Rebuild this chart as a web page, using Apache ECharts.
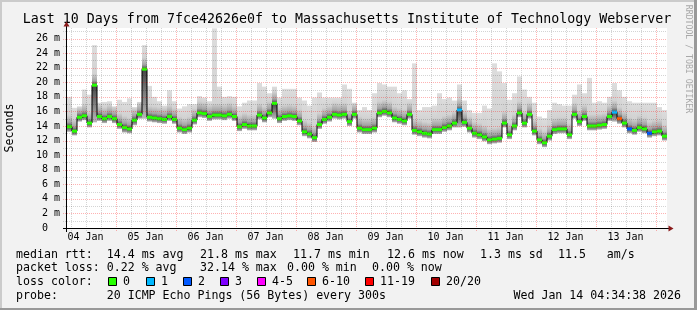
<!DOCTYPE html>
<html><head><meta charset="utf-8">
<script src="https://cdn.jsdelivr.net/npm/echarts@6/dist/echarts.min.js"></script>
<style>html,body{margin:0;padding:0;background:#f2f2f2}#c{width:697px;height:310px}</style>
</head><body><div id="c"></div>
<script>
// time axis: hours after 04 Jan 2026 00:00
const X_START = 4.5772;   // 04 Jan 04:34:38
const X_END = 244.5772;   // 14 Jan 04:34:38
const STEP_H = 2;         // consolidation step (hours)

// median rtt (ms), one value per step
const median = [
13.9,13.3,15.2,15.4,14.4,19.6,15.3,15.0,15.3,15.0,
14.2,13.8,13.6,14.8,15.6,21.8,15.2,15.1,15.0,14.9,
15.3,14.9,13.7,13.5,13.7,14.8,15.8,15.7,15.3,15.5,
15.5,15.4,15.6,15.3,13.9,14.2,14.0,14.0,15.5,15.1,
15.8,17.1,15.0,15.3,15.4,15.3,14.7,13.2,12.9,12.4,
14.2,14.9,15.2,15.6,15.5,15.6,14.6,15.6,13.7,13.5,
13.5,13.7,15.8,16.0,15.8,15.1,14.9,14.7,15.6,13.4,
13.2,13.0,12.9,13.5,13.5,13.8,14.0,14.4,16.2,14.5,
13.7,13.0,12.8,12.5,12.1,12.2,12.3,14.4,12.8,14.0,
15.8,14.4,15.6,13.3,12.1,11.7,12.6,13.5,13.6,13.6,
12.8,15.6,14.6,15.3,14.0,14.0,14.1,14.2,15.3,15.9,
15.0,14.4,13.6,13.4,13.8,13.6,13.0,13.2,13.3,12.6
];
// top of the smoke (slowest ping, ms)
const smokeHi = [
18.0,16.5,16.7,19.0,18.3,25.1,17.2,17.3,17.4,16.7,
17.6,17.3,17.8,16.6,17.3,25.1,19.5,18.0,17.4,16.8,
18.9,17.4,16.4,16.7,17.0,17.0,18.1,17.9,17.4,27.4,
19.4,18.0,18.1,18.0,16.7,17.2,17.5,17.5,19.9,19.4,
18.5,19.4,17.9,19.1,19.1,19.1,17.9,17.5,16.8,17.9,
18.6,17.9,17.9,17.9,17.9,19.7,19.1,17.2,16.2,16.6,
16.2,18.5,19.9,19.7,19.4,19.4,18.5,18.9,17.7,22.6,
16.2,16.6,16.6,16.8,18.5,17.7,17.9,17.5,19.7,17.5,
16.2,15.8,15.8,16.8,16.4,22.6,21.5,19.9,17.6,18.5,
20.8,19.0,18.0,17.2,15.3,15.1,16.2,17.2,17.0,16.8,
16.8,18.3,19.7,18.5,20.6,17.2,17.4,17.2,18.0,19.9,
18.9,18.0,17.4,17.2,17.2,17.2,17.2,17.2,16.6,16.2
];
// bottom of the smoke (fastest ping, ms)
const smokeLo = [
13.2,12.7,14.6,14.8,13.8,14.5,14.7,14.4,14.7,14.4,
13.6,13.1,13.0,14.1,15.0,15.0,14.6,14.5,14.4,14.3,
14.7,14.3,13.1,12.9,13.1,14.2,15.2,15.1,14.7,14.9,
14.9,14.8,15.0,14.7,13.3,13.6,13.4,13.4,14.9,14.5,
15.2,15.0,14.4,14.7,14.8,14.7,14.1,12.6,12.3,11.8,
13.6,14.3,14.6,15.0,14.9,15.0,14.0,15.0,13.1,12.9,
12.9,13.1,15.2,15.4,15.2,14.5,14.3,14.1,15.0,12.8,
12.6,12.4,12.3,12.9,12.9,13.2,13.4,13.8,13.8,13.9,
13.1,12.4,12.2,11.9,11.5,11.6,11.7,13.8,12.2,13.4,
15.2,13.8,15.0,12.7,11.5,11.1,12.0,12.9,13.0,13.0,
12.2,15.0,14.0,14.7,13.4,13.4,13.5,13.6,14.7,14.6,
14.3,13.8,13.0,12.8,13.2,13.0,12.4,12.6,12.7,12.0
];
// steps with packet loss: index into median, and loss colour class
const lossIdx = [78, 109, 110, 112, 116];
const lossCls = [1, 1, 5, 2, 2];
const lossColors = ['#26ff00','#00b8ff','#0059ff','#7e00ff','#ff00ff','#ff5500','#ff0000','#a10000'];
const lossLabels = ['0','1','2','3','4-5','6-10','11-19','20/20'];

const dayLabels = ['04 Jan','05 Jan','06 Jan','07 Jan','08 Jan','09 Jan','10 Jan','11 Jan','12 Jan','13 Jan'];
const dayLabelHours = [12,36,60,84,108,132,156,180,204,228];
const dayLines = [24,48,72,96,120,144,168,192,216,240];
const quarterLines = [6,12,18,30,36,42,54,60,66,78,84,90,102,108,114,126,132,138,150,156,162,174,180,186,198,204,210,222,228,234];
const yMajor = [2,4,6,8,10,12,14,16,18,20,22,24,26];
const yMinor = [1,3,5,7,9,11,13,15,17,19,21,23,25,27];
const Y_MAX = 27.45;

const MONO = '"DejaVu Sans Mono", monospace';
const chart = echarts.init(document.getElementById('c'), null, {renderer:'canvas'});

const lossOf = {};
lossIdx.forEach((k, j) => { lossOf[k] = lossCls[j]; });

const stepData = median.map((v, i) => [X_START + i * STEP_H, v]);
const lineData = stepData.concat([[X_END, median[median.length - 1]]]);

function renderSmoke(params, api) {
  const i = params.dataIndex;
  const t = api.value(0);
  const pHi = api.coord([t, smokeHi[i]]);
  const pLo = api.coord([t + STEP_H, smokeLo[i]]);
  const yHi = pHi[1], yLo = pLo[1];
  const h = yLo - yHi;
  const off = v => Math.min(1, Math.max(0, (api.coord([t, v])[1] - yHi) / h));
  const m = median[i];
  const a = off(m + 1.6), b = off(m + 0.6), c = off(m);
  const stops = [{offset: 0, color: '#dddddd'}];
  if (a > 0) stops.push({offset: a, color: '#d2d2d2'});
  if (b > a) stops.push({offset: b, color: '#a2a2a2'});
  stops.push({offset: Math.max(c, b), color: '#444444'});
  stops.push({offset: 1, color: '#b8b8b8'});
  return {type: 'rect', shape: {x: pHi[0], y: yHi, width: pLo[0] - pHi[0], height: h},
    style: {fill: new echarts.graphic.LinearGradient(0, 0, 0, 1, stops)}};
}

function renderLoss(params, api) {
  const i = params.dataIndex;
  const t = api.value(0);
  const p0 = api.coord([t, median[i]]);
  const p1 = api.coord([t + STEP_H, median[i]]);
  const cls = lossOf[i] || 0;
  return {type: 'rect', shape: {x: p0[0], y: p0[1] - 1.5, width: p1[0] - p0[0], height: 3},
    style: {fill: lossColors[cls]}};
}

function txt(x, y, s, size, align, vAlign, color, rot) {
  return {type: 'text', x: x, y: y, rotation: rot || 0,
    style: {text: s, fontSize: size, fontFamily: MONO, fill: color || '#000',
      align: align || 'left', textAlign: align || 'left',
      verticalAlign: vAlign || 'middle', textVerticalAlign: vAlign || 'middle'}};
}

function renderGrid(params, api) {
  const cs = params.coordSys;
  const L = cs.x, T = cs.y, R = cs.x + cs.width, B = cs.y + cs.height;
  const gray = 'rgba(0,0,0,0.17)', red = 'rgba(255,0,0,0.30)';
  const kids = [];
  const hline = (v, col) => {
    const y = Math.round(api.coord([X_START, v])[1]) + 0.5;
    kids.push({type: 'line', shape: {x1: L - 4, y1: y, x2: R, y2: y},
      style: {stroke: col, lineWidth: 1, lineDash: [1, 1]}});
  };
  const vline = (hr, col) => {
    const x = Math.round(api.coord([hr, 0])[0]) + 0.5;
    kids.push({type: 'line', shape: {x1: x, y1: T, x2: x, y2: B + 3},
      style: {stroke: col, lineWidth: 1, lineDash: [1, 1]}});
  };
  yMinor.forEach(v => hline(v, gray));
  quarterLines.forEach(h => vline(h, gray));
  yMajor.forEach(v => hline(v, red));
  dayLines.forEach(h => vline(h, red));
  dayLabelHours.forEach((h, j) => {
    const x = api.coord([h, 0])[0];
    kids.push(txt(x, B + 9, dayLabels[j], 10, 'center', 'middle'));
  });
  // axes and arrows
  const ar = '#8a1a1a';
  kids.push({type: 'line', shape: {x1: L - 4, y1: B + 0.5, x2: R + 2, y2: B + 0.5}, style: {stroke: '#000', lineWidth: 1}});
  kids.push({type: 'line', shape: {x1: L - 0.5, y1: B + 4, x2: L - 0.5, y2: T - 2}, style: {stroke: '#000', lineWidth: 1}});
  kids.push({type: 'polygon', shape: {points: [[R + 1.5, B - 2.5], [R + 6.5, B + 0.5], [R + 1.5, B + 3.5]]}, style: {fill: ar}});
  kids.push({type: 'polygon', shape: {points: [[L - 3.5, T - 1.5], [L - 0.5, T - 6.5], [L + 2.5, T - 1.5]]}, style: {fill: ar}});
  return {type: 'group', children: kids};
}

const graphics = [];
// border shading
graphics.push({type: 'rect', shape: {x: 0, y: 0, width: 697, height: 2}, style: {fill: '#cbcbcb'}});
graphics.push({type: 'rect', shape: {x: 0, y: 0, width: 2, height: 310}, style: {fill: '#cbcbcb'}});
graphics.push({type: 'rect', shape: {x: 0, y: 308, width: 697, height: 2}, style: {fill: '#999999'}});
graphics.push({type: 'rect', shape: {x: 694, y: 0, width: 3, height: 310}, style: {fill: '#999999'}});
graphics.push(txt(347, 19.5, 'Last 10 Days from 7fce42626e0f to Massachusetts Institute of Technology Webserver', 13.3, 'center'));
graphics.push(txt(10, 128, 'Seconds', 11.6, 'center', 'middle', '#000', Math.PI / 2));
graphics.push(txt(688.5, 59, 'RRDTOOL / TOBI OETIKER', 8.2, 'center', 'middle', '#a8a8a8', -Math.PI / 2));
const FS = 11.6;
const row1 = [[16,'median rtt:  14.4 ms avg'],[200,'21.8 ms max'],[293,'11.7 ms min'],[387,'12.6 ms now'],[480,'1.3 ms sd'],[558,'11.5   am/s']];
const row2 = [[16,'packet loss: 0.22 % avg'],[200,'32.14 % max'],[287,'0.00 % min'],[372,'0.00 % now']];
row1.forEach(r => graphics.push(txt(r[0], 254.5, r[1], FS)));
row2.forEach(r => graphics.push(txt(r[0], 268.3, r[1], FS)));
graphics.push(txt(16, 282, 'loss color:', FS));
const boxX = [108,146,183,220,257,307,365,431];
boxX.forEach((bx, j) => {
  graphics.push({type: 'rect', shape: {x: bx + 0.5, y: 277.5, width: 8, height: 8},
    style: {fill: lossColors[j], stroke: '#000', lineWidth: 1}});
  graphics.push(txt(bx + 15, 282, lossLabels[j], FS));
});
graphics.push(txt(16, 296, 'probe:       20 ICMP Echo Pings (56 Bytes) every 300s', FS));
graphics.push(txt(681, 296, 'Wed Jan 14 04:34:38 2026', FS, 'right'));

chart.setOption({
  animation: false,
  backgroundColor: '#f2f2f2',
  grid: {left: 67, top: 28, width: 600, height: 200, show: true, backgroundColor: '#ffffff', borderWidth: 0},
  xAxis: {type: 'value', min: X_START, max: X_END, show: false},
  yAxis: {type: 'value', min: 0, max: Y_MAX, interval: 2,
    axisLine: {show: false}, axisTick: {show: false}, splitLine: {show: false},
    axisLabel: {showMaxLabel: false, margin: 7, fontSize: 10, fontFamily: MONO, color: '#000',
      formatter: v => (v === 0 ? '0  ' : v + ' m')}},
  series: [
    {type: 'custom', name: 'smoke', data: stepData, encode: {x: 0, y: 1}, renderItem: renderSmoke, z: 1, silent: true},
    {type: 'line', name: 'median', data: lineData, step: 'end', symbol: 'none', z: 2, silent: true,
      lineStyle: {color: '#000', width: 1}},
    {type: 'custom', name: 'loss', data: stepData, encode: {x: 0, y: 1}, renderItem: renderLoss, z: 3, silent: true},
    {type: 'custom', name: 'grid', data: [[X_START, 0]], encode: {x: 0, y: 1}, renderItem: renderGrid, z: 4, clip: false, silent: true}
  ],
  graphic: graphics
});
</script></body></html>
